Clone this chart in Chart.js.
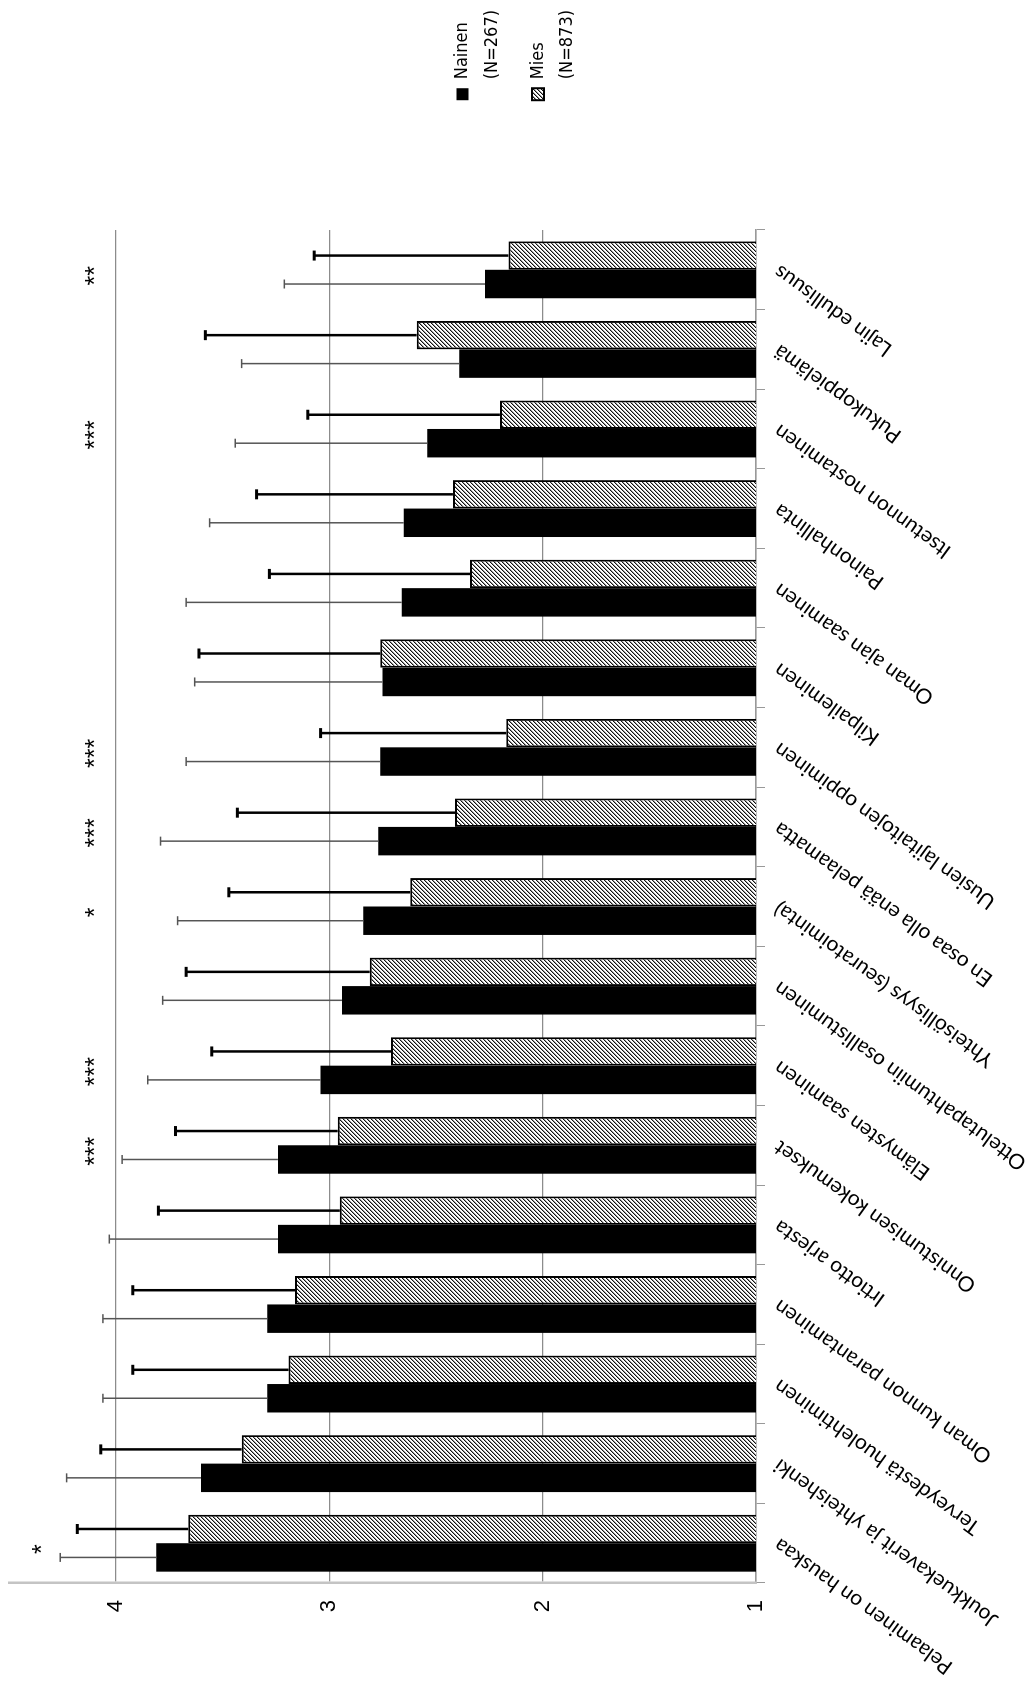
<!DOCTYPE html>
<html>
<head>
<meta charset="utf-8">
<script src="https://cdn.jsdelivr.net/npm/chart.js@4.4.1/dist/chart.umd.min.js"></script>
<style>
  html, body { margin: 0; padding: 0; background: #fff; }
  #page { position: relative; width: 1033px; height: 1684px; overflow: hidden; }
  /* chart is drawn upright, then turned a quarter left like the printed figure */
  #chart { position: absolute; left: 0; top: 0; width: 1684px; height: 1033px;
           transform-origin: 0 0; transform: translate(0, 1684px) rotate(-90deg); }
</style>
</head>
<body>
<div id="page"><canvas id="chart" width="1684" height="1033"></canvas></div>
<script>
var categories = [
  "Pelaaminen on hauskaa",
  "Joukkuekaverit ja yhteishenki",
  "Terveydestä huolehtiminen",
  "Oman kunnon parantaminen",
  "Irtiotto arjesta",
  "Onnistumisen kokemukset",
  "Elämysten saaminen",
  "Ottelutapahtumiin osallistuminen",
  "Yhteisöllisyys (seuratoiminta)",
  "En osaa olla enää pelaamatta",
  "Uusien lajitaitojen oppiminen",
  "Kilpaileminen",
  "Oman ajan saaminen",
  "Painonhallinta",
  "Itsetunnon nostaminen",
  "Pukukoppielämä",
  "Lajin edullisuus"
];

var seriesNames = ["Nainen", "Mies"];
var seriesN = [267, 873];

var nainen   = [3.81, 3.60, 3.29, 3.29, 3.24, 3.24, 3.04, 2.94, 2.84, 2.77, 2.76, 2.75, 2.66, 2.65, 2.54, 2.39, 2.27];
var nainenSd = [0.45, 0.63, 0.77, 0.77, 0.79, 0.73, 0.81, 0.84, 0.87, 1.02, 0.91, 0.88, 1.01, 0.91, 0.90, 1.02, 0.94];
var mies     = [3.66, 3.41, 3.19, 3.16, 2.95, 2.96, 2.71, 2.81, 2.62, 2.41, 2.17, 2.76, 2.34, 2.42, 2.20, 2.59, 2.16];
var miesSd   = [0.52, 0.66, 0.73, 0.76, 0.85, 0.76, 0.84, 0.86, 0.85, 1.02, 0.87, 0.85, 0.94, 0.92, 0.90, 0.99, 0.91];

var significance = ["*", "", "", "", "", "***", "***", "", "*", "***", "***", "", "", "", "***", "", "**"];

var valueTicks = [1, 2, 3, 4];

// diagonal hatch for the Mies bars
function makeHatch() {
  var c = document.createElement("canvas");
  c.width = 4; c.height = 4;
  var g = c.getContext("2d");
  g.fillStyle = "#fff";
  g.fillRect(0, 0, 4, 4);
  for (var i = 0; i < 4; i++) {
    g.fillStyle = "#111";
    g.fillRect(3 - i, i, 1, 1);
    g.fillStyle = "#999";
    g.fillRect((4 - i) % 4, i, 1, 1);
  }
  return document.createElement("canvas").getContext("2d").createPattern(c, "repeat");
}
var hatch = makeHatch();

var errStyles = [
  { color: "#555", width: 1.5, capWidth: 1.5, cap: 4.5 },
  { color: "#000", width: 2.5, capWidth: 3, cap: 5 }
];

var errorBars = {
  id: "errorBars",
  afterDatasetsDraw: function (chart) {
    var ctx = chart.ctx, y = chart.scales.y;
    chart.data.datasets.forEach(function (ds, i) {
      var st = errStyles[i];
      chart.getDatasetMeta(i).data.forEach(function (bar, j) {
        var top = y.getPixelForValue(ds.data[j] + ds.sd[j]);
        ctx.save();
        ctx.strokeStyle = st.color;
        ctx.lineWidth = st.width;
        ctx.beginPath();
        ctx.moveTo(bar.x, bar.y);
        ctx.lineTo(bar.x, top);
        ctx.stroke();
        ctx.lineWidth = st.capWidth;
        ctx.beginPath();
        ctx.moveTo(bar.x - st.cap, top);
        ctx.lineTo(bar.x + st.cap, top);
        ctx.stroke();
        ctx.restore();
      });
    });
  }
};

var sigStars = {
  id: "sigStars",
  afterDatasetsDraw: function (chart) {
    var ctx = chart.ctx, x = chart.scales.x, y = chart.scales.y;
    ctx.save();
    ctx.font = '25px "Liberation Sans", Arial, sans-serif';
    ctx.fillStyle = "#000";
    ctx.textAlign = "center";
    ctx.textBaseline = "alphabetic";
    significance.forEach(function (s, j) {
      if (!s) return;
      var top = Math.max(nainen[j] + nainenSd[j], mies[j] + miesSd[j]);
      var v = Math.max(4.12, top + 0.11);
      ctx.fillText(s, x.getPixelForValue(j) - 6, y.getPixelForValue(v) + 13);
    });
    ctx.restore();
  }
};

var legendText = seriesNames.map(function (n, i) { return [n, "(N=" + seriesN[i] + ")"]; });

new Chart(document.getElementById("chart"), {
  type: "bar",
  data: {
    labels: categories,
    datasets: [
      { label: seriesNames[0], data: nainen, sd: nainenSd, backgroundColor: "#000",
        borderWidth: 0, categoryPercentage: 0.715, barPercentage: 1 },
      { label: seriesNames[1], data: mies, sd: miesSd, backgroundColor: hatch,
        borderColor: "#000", borderWidth: 2, categoryPercentage: 0.715, barPercentage: 1 }
    ]
  },
  options: {
    responsive: false,
    animation: false,
    devicePixelRatio: 1,
    layout: { padding: { top: 9, left: 0, right: 0, bottom: 0 } },
    plugins: {
      tooltip: { enabled: false },
      legend: {
        position: "right",
        align: "center",
        labels: {
          boxWidth: 12,
          boxHeight: 12,
          padding: 16,
          color: "#000",
          font: { family: '"Liberation Sans Narrow", "DejaVu Sans Condensed", sans-serif', size: 18, lineHeight: 1.65 },
          generateLabels: function (chart) {
            var items = Chart.defaults.plugins.legend.labels.generateLabels(chart);
            items.forEach(function (it, i) { it.text = legendText[i]; });
            return items;
          }
        }
      }
    },
    scales: {
      x: {
        grid: { drawOnChartArea: false, tickLength: 9, color: "#999", offset: true },
        border: { color: "#999", width: 1.5 },
        ticks: { minRotation: 54, maxRotation: 54, autoSkip: false, padding: 4, color: "#000",
                 font: { family: "Lato, sans-serif", size: 21 } },
        afterFit: function (s) { s.height = 277; }
      },
      y: {
        min: 1,
        max: 4.5,
        ticks: { stepSize: 1, includeBounds: false, padding: 17, color: "#000",
                 font: { family: '"Liberation Sans", Arial, sans-serif', size: 22 } },
        afterBuildTicks: function (s) {
          s.ticks = valueTicks.map(function (v) { return { value: v }; });
        },
        grid: { color: "#8c8c8c", lineWidth: 1.2, drawTicks: false },
        border: { color: "#c4c4c4", width: 2.5 },
        afterFit: function (s) { s.width = 101; s.paddingTop = 0; s.paddingBottom = 0; }
      },
      gap: {
        type: "linear",
        axis: "y",
        position: "right",
        display: true,
        grid: { display: false },
        border: { display: false },
        ticks: { display: false },
        afterFit: function (s) { s.width = 1684 - s.chart.legend.width - 1454; s.paddingTop = 0; s.paddingBottom = 0; }
      }
    }
  },
  plugins: [errorBars, sigStars]
});
</script>
</body>
</html>
